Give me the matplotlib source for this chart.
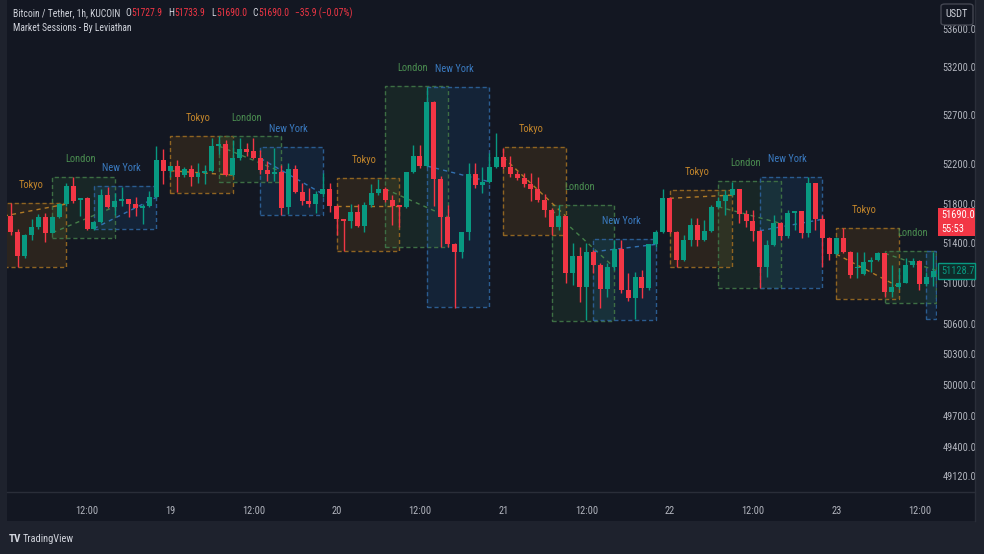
import numpy as np
import matplotlib
matplotlib.use('Agg')
import matplotlib.pyplot as plt
from matplotlib.patches import Rectangle, FancyBboxPatch
from matplotlib.ticker import NullLocator, NullFormatter, FixedLocator, FixedFormatter
from matplotlib import font_manager

# ---------------- data ----------------
opens = [51675, 51517, 51273, 51483, 51567, 51662, 51507, 51668, 51796, 51979,
         51837, 51854, 51549, 51618, 51887, 51769, 51830, 51844, 51796, 51753,
         51776, 51864, 52243, 52134, 52182, 52090, 52148, 52070, 52108, 52134,
         52386, 52404, 52090, 52260, 52353, 52330, 52260, 52141, 52100, 52124,
         51766, 52148, 51921, 51827, 51796, 51898, 51945, 51776, 51642, 51628,
         51718, 51574, 51786, 51905, 51948, 51837, 51783, 51763, 52118, 52289,
         52182, 52842, 52047, 51668, 51393, 51316, 51511, 52100, 51989, 52022,
         52169, 52271, 52169, 52100, 52057, 51996, 51945, 51837, 51735, 51567,
         51675, 51101, 51273, 50967, 51316, 51183, 50941, 51160, 51340, 50934,
         50852, 51061, 50951, 51390, 51511, 51854, 51517, 51233, 51431, 51584,
         51433, 51527, 51769, 51827, 51887, 51945, 51695, 51628, 51527, 51160,
         51383, 51601, 51473, 51702, 51725, 51507, 52006, 51642, 51450, 51293,
         51450, 51316, 51150, 51094, 51216, 51233, 51300, 50918, 50961, 51007,
         51183, 51226, 50994, 51067]
highs = [51803, 51541, 51490, 51642, 51692, 51702, 51675, 51806, 52006, 52067,
         51858, 51870, 51625, 51945, 51972, 51905, 51972, 51850, 51870, 51793,
         51928, 52386, 52353, 52182, 52243, 52175, 52192, 52209, 52192, 52471,
         52489, 52448, 52448, 52465, 52420, 52465, 52345, 52232, 52363, 52192,
         52209, 52192, 52006, 51955, 51931, 52108, 52006, 51790, 51645, 51796,
         51796, 51819, 51999, 52047, 51972, 51887, 51786, 52120, 52396, 52396,
         52996, 52845, 52080, 51786, 51400, 51511, 52209, 52209, 52175, 52312,
         52523, 52363, 52284, 52134, 52108, 52113, 52073, 51898, 51753, 51786,
         51680, 51406, 51366, 51400, 51333, 51200, 51200, 51433, 51433, 51107,
         51117, 51134, 51390, 51534, 51945, 51864, 51520, 51483, 51658, 51652,
         51635, 51786, 51870, 51938, 52022, 51948, 51735, 51735, 51534, 51433,
         51685, 51618, 51735, 51728, 51728, 52073, 52010, 51685, 51467, 51467,
         51551, 51320, 51316, 51316, 51266, 51316, 51306, 51183, 51150, 51250,
         51250, 51230, 51117, 51316]
lows = [51483, 51166, 51253, 51433, 51544, 51416, 51500, 51655, 51776, 51804,
        51675, 51534, 51530, 51608, 51753, 51685, 51776, 51668, 51675, 51594,
        51769, 51854, 51999, 52073, 51921, 52073, 51982, 52006, 51999, 52120,
        52304, 52080, 52080, 52243, 52284, 52250, 52097, 52030, 52033, 51681,
        51695, 51911, 51791, 51769, 51708, 51870, 51718, 51483, 51326, 51551,
        51567, 51517, 51769, 51887, 51820, 51584, 51567, 51753, 52110, 52158,
        52170, 51776, 51366, 51366, 50753, 51250, 51433, 51955, 51905, 52012,
        52158, 52148, 52073, 52040, 51972, 51830, 51820, 51668, 51483, 51534,
        51001, 50984, 50818, 50637, 51101, 50753, 50862, 51133, 50902, 50828,
        50643, 50852, 50934, 51366, 51507, 51507, 51160, 51226, 51373, 51373,
        51423, 51517, 51753, 51685, 51877, 51601, 51567, 51426, 50951, 51067,
        51373, 51433, 51450, 51534, 51450, 51466, 51534, 51160, 51233, 51283,
        51300, 51050, 51050, 51084, 51117, 51223, 50862, 50862, 50941, 51001,
        51167, 50934, 50970, 50970]
closes = [51517, 51273, 51483, 51567, 51662, 51507, 51668, 51796, 51979, 51830,
          51854, 51549, 51618, 51887, 51769, 51830, 51844, 51796, 51753, 51776,
          51864, 52243, 52134, 52182, 52067, 52148, 52070, 52108, 52134, 52386,
          52404, 52090, 52260, 52353, 52328, 52260, 52141, 52100, 52124, 51756,
          52148, 51921, 51827, 51796, 51898, 51945, 51776, 51642, 51628, 51718,
          51574, 51786, 51905, 51948, 51837, 51776, 51763, 52118, 52289, 52182,
          52842, 52047, 51668, 51393, 51316, 51511, 52100, 51989, 52022, 52169,
          52271, 52169, 52100, 52057, 51996, 51945, 51837, 51735, 51567, 51675,
          51101, 51273, 50967, 51316, 51183, 50941, 51160, 51340, 50934, 50852,
          51061, 50951, 51390, 51511, 51854, 51517, 51233, 51431, 51584, 51433,
          51527, 51769, 51827, 51887, 51945, 51695, 51628, 51527, 51160, 51383,
          51601, 51473, 51702, 51725, 51507, 52006, 51642, 51450, 51293, 51450,
          51316, 51084, 51166, 51216, 51233, 51300, 50918, 50967, 51007, 51183,
          51226, 50994, 51067, 51128.7]

# sessions: name, start bar, end bar, session high, session low
sess_names = ['Tokyo', 'London', 'New York'] * 6
sess_start = [-1, 6, 12, 23, 30, 36, 47, 54, 60, 71, 78, 84, 95, 102, 108, 119, 126, 132]
sess_end = [8, 15, 21, 32, 39, 45, 56, 63, 69, 80, 87, 93, 104, 111, 117, 128, 133.4, 133.4]
sess_high = [51803, 52067, 51979, 52489, 52489, 52380, 52057, 53000, 52996,
             52374, 51786, 51440, 51938, 52032, 52067, 51551, 51326, 51326]
sess_low = [51160, 51450, 51544, 51910, 52022, 51685, 51323, 51366, 50763,
            51483, 50629, 50637, 51160, 50951, 50951, 50843, 50805, 50643]

price_ticks = [53600, 53200, 52700, 52200, 51800, 51400, 51000, 50600, 50300,
               50000, 49700, 49400, 49120]
time_tick_bars = [11, 23, 35, 47, 59, 71, 83, 95, 107, 119, 131]
time_tick_labels = ['12:00', '19', '12:00', '20', '12:00', '21', '12:00', '22',
                    '12:00', '23', '12:00']

header_title = 'Bitcoin / Tether, 1h, KUCOIN'
header_ohlc = [('O', '51727.9'), ('H', '51733.9'), ('L', '51690.0'), ('C', '51690.0')]
header_change = '\u221235.9 (\u22120.07%)'
indicator_title = 'Market Sessions - By Leviathan'
last_price = 51690.0
countdown = '55:53'

# ---------------- style ----------------
avail = {f.name for f in font_manager.fontManager.ttflist}
FONT = 'DejaVu Sans'
for cand in ['Liberation Sans Narrow', 'Roboto Condensed', 'DejaVu Sans Condensed', 'Liberation Sans']:
    if cand in avail:
        FONT = cand
        break
plt.rcParams['font.family'] = [FONT, 'DejaVu Sans']

BG = '#131722'
OUTER = '#1e222d'
TXT = '#b2b5be'
BULL = '#089981'
BEAR = '#f23645'
SESS = {
    'Tokyo': dict(fill='#ff9800', edge='#8f6422', text='#c4862b', line='#b07a26'),
    'London': dict(fill='#4caf50', edge='#3d6e44', text='#4a8c50', line='#447e49'),
    'New York': dict(fill='#2196f3', edge='#2b5c90', text='#3a7ac0', line='#3270b0'),
}

W, H = 984, 554
fig = plt.figure(figsize=(W / 100, H / 100), dpi=100)
fig.patch.set_facecolor(OUTER)


def fx(px):
    return px / W


def fy(py):
    return 1 - py / H


fig.patches.append(Rectangle((fx(7), fy(521)), fx(975) - fx(7), fy(0) - fy(521),
                             transform=fig.transFigure, facecolor=BG, edgecolor='none', zorder=-10))

ax = fig.add_axes([fx(7.3), fy(492), fx(937) - fx(7.3), fy(0) - fy(492)])
ax.set_zorder(1)
ax.set_facecolor(BG)
ax.set_yscale('log')
ax.set_ylim(48966, 53900)
ax.set_xlim(-0.49, 133.53)
for s in ax.spines.values():
    s.set_visible(False)

o = np.array(opens, float)
h = np.array(highs, float)
l = np.array(lows, float)
c = np.array(closes, float)
n = len(o)
x = np.arange(n)
cols = np.where(c >= o, BULL, BEAR)

# sessions
for name, s, e, hi, lo in zip(sess_names, sess_start, sess_end, sess_high, sess_low):
    st = SESS[name]
    ax.add_patch(Rectangle((s, lo), e - s, hi - lo, facecolor=st['fill'], alpha=0.10,
                           edgecolor='none', zorder=1))
    ax.add_patch(Rectangle((s, lo), e - s, hi - lo, facecolor='none',
                           edgecolor=st['edge'], linestyle=(0, (3, 2)), linewidth=1.0, zorder=1.5))
    i0 = max(int(s), 0)
    i1 = min(int(np.ceil(e)) - 1, n - 1)
    ax.plot([s, e], [o[i0], c[i1]], linestyle=(0, (3, 3)), color=st['line'], lw=1.0, zorder=2)
    ax.annotate(name, xy=(s + 4, hi), xytext=(0, 18), textcoords='offset pixels',
                ha='center', va='center', color=st['text'], fontsize=7.5)

# candles
ax.vlines(x, l, h, colors=cols, linewidth=1, zorder=3)
ax.bar(x, np.abs(c - o), bottom=np.minimum(o, c), width=0.72, color=cols, linewidth=0, zorder=4)

# axes ticks
ax.yaxis.set_major_locator(FixedLocator(price_ticks))
ax.yaxis.set_major_formatter(FixedFormatter([f'{p:.1f}' for p in price_ticks]))
ax.yaxis.set_minor_locator(NullLocator())
ax.yaxis.set_minor_formatter(NullFormatter())
ax.tick_params(axis='y', which='both', left=False, right=False, labelleft=False,
               labelright=True, length=0, pad=4, labelcolor=TXT, labelsize=7.5)
ax.xaxis.set_major_locator(FixedLocator(time_tick_bars))
ax.xaxis.set_major_formatter(FixedFormatter(time_tick_labels))
ax.tick_params(axis='x', length=0, pad=10, labelcolor=TXT, labelsize=7.5)

# separators
fig.add_artist(plt.Line2D([fx(7), fx(975)], [fy(492), fy(492)], color='#2a2e39', lw=1))
fig.add_artist(plt.Line2D([fx(975), fx(975)], [fy(0), fy(521)], color='#2a2e39', lw=1))


def price_to_py(p):
    disp = ax.transData.transform((0, p))[1]
    return H - disp


# last price label (red)
py_last = price_to_py(last_price)
fig.patches.append(Rectangle((fx(938), fy(py_last + 21)), fx(975) - fx(938), 28 / H,
                             transform=fig.transFigure, facecolor=BEAR, edgecolor='none', zorder=5))
fig.text(fx(941), fy(py_last), f'{last_price:.1f}', color='white', fontsize=7.5, va='center', ha='left', zorder=6)
fig.text(fx(941), fy(py_last + 14), countdown, color='white', fontsize=7.5, va='center', ha='left', zorder=6)

# last close label (green outlined)
py_c = price_to_py(c[-1])
fig.patches.append(Rectangle((fx(938), fy(py_c + 8)), fx(975) - fx(938), 16 / H,
                             transform=fig.transFigure, facecolor='#0f2b2a', edgecolor=BULL, lw=1, zorder=5))
fig.text(fx(941), fy(py_c), f'{c[-1]:.1f}', color=BULL, fontsize=7.5, va='center', ha='left', zorder=6)

# USDT button
fig.patches.append(FancyBboxPatch((fx(941), fy(25)), fx(973) - fx(941), 21 / H,
                                  boxstyle='round,pad=0,rounding_size=0.004',
                                  transform=fig.transFigure, facecolor=BG, edgecolor='#434651', lw=1, zorder=5))
fig.text(fx(957), fy(14), 'USDT', color='#d1d4dc', fontsize=7.5, ha='center', va='center', zorder=6)

# header (laid out sequentially)
renderer = fig.canvas.get_renderer()
HFS = 6.9


def put(px, py, s, color, gap):
    t = fig.text(fx(px), fy(py), s, color=color, fontsize=HFS, va='center', ha='left')
    bb = t.get_window_extent(renderer=renderer)
    return bb.x1 + gap


cx = put(12.7, 13, header_title, '#d1d4dc', 5.5)
for k, v in header_ohlc:
    cx = put(cx, 13, k, '#d1d4dc', 0.5)
    cx = put(cx, 13, v, BEAR, 5.5)
put(cx, 13, header_change, BEAR, 0)
fig.text(fx(12.7), fy(28), indicator_title, color='#d1d4dc', fontsize=HFS, va='center', ha='left')

# footer
fig.text(fx(9), fy(539), 'TV', color='#d1d4dc', fontsize=8, fontweight='bold', va='center', ha='left')
fig.text(fx(23), fy(539), 'TradingView', color='#d1d4dc', fontsize=7.5, va='center', ha='left')

fig.savefig('out.png', dpi=100, facecolor=fig.get_facecolor())
